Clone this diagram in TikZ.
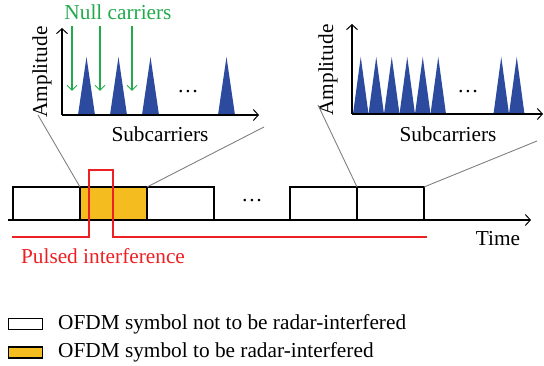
\documentclass[tikz,border=0pt]{standalone}
\usepackage{fontspec}
\setmainfont{Liberation Serif}
\usetikzlibrary{arrows.meta}
\definecolor{ngreen}{RGB}{34,170,76}
\definecolor{tblue}{RGB}{44,74,158}
\definecolor{syellow}{RGB}{245,188,32}
\definecolor{pred}{RGB}{237,32,36}
\tikzset{
  lbl/.style={font=\rmfamily\fontsize{21.3}{23}\selectfont, inner sep=0pt},
  axis/.style={line width=1.4pt, -{Straight Barb[length=5pt,width=11pt,line width=1pt]}},
  garrow/.style={ngreen, line width=1.1pt, -{Straight Barb[length=5pt,width=10pt,line width=1pt]}},
  tri/.style={fill=tblue, draw=none},
  sym/.style={draw=black, line width=1.3pt, minimum width=67pt, minimum height=33pt, inner sep=0pt, outer sep=0pt},
  leg/.style={draw=black, line width=1.1pt, minimum width=34pt, minimum height=11pt, inner sep=0pt, outer sep=0pt},
  zoomline/.style={gray, line width=0.9pt},
}
\begin{document}
\begin{tikzpicture}[x=1pt,y=-1pt]
\useasboundingbox (0,0) rectangle (544,366);
% ---------- left spectrum panel
\fill[tri] (78,115) -- (86.5,57) -- (95,115) -- cycle;
\fill[tri] (110,115) -- (118.5,57) -- (127,115) -- cycle;
\fill[tri] (142,115) -- (150.5,57) -- (159,115) -- cycle;
\fill[tri] (218,115) -- (226.5,57) -- (235,115) -- cycle;
\coordinate (lo) at (62,115);
\coordinate (ly) at (62,28);
\coordinate (lx) at (259,115);
\draw[axis] (lo) -- (ly);
\draw[axis] (lo) -- (lx);
\node[lbl, rotate=90] (lamp) at (42,72) {Amplitude};
\node[lbl] (lsub) at (160,134) {Subcarriers};
\node[lbl] (ldots) at (188,92) {\dots};
\node[lbl, text=ngreen] (null) at (118,12) {Null carriers};
\coordinate (g1s) at (72,26); \coordinate (g1e) at (72,91);
\coordinate (g2s) at (100,26); \coordinate (g2e) at (100,91);
\coordinate (g3s) at (132,26); \coordinate (g3e) at (132,91);
\draw[garrow] (g1s) -- (g1e);
\draw[garrow] (g2s) -- (g2e);
\draw[garrow] (g3s) -- (g3e);
% ---------- right spectrum panel
\foreach \a in {353,368.5,384,399.5,415,430.5,493.5,509}
  \fill[tri] (\a,114) -- (\a+7.75,57) -- (\a+15.5,114) -- cycle;
\coordinate (ro) at (352,114);
\coordinate (ry) at (352,24);
\coordinate (rx) at (543,114);
\draw[axis] (ro) -- (ry);
\draw[axis] (ro) -- (rx);
\node[lbl, rotate=90] (ramp) at (328,70) {Amplitude};
\node[lbl] (rsub) at (448,134) {Subcarriers};
\node[lbl] (rdots) at (468,92) {\dots};
% ---------- time axis and symbols
\coordinate (ts) at (8,220);
\coordinate (te) at (531,220);
\node[sym, fill=white] (s1) at (46.5,203.5) {};
\node[sym, fill=syellow] (s2) at (113.5,203.5) {};
\node[sym, fill=white] (s3) at (180.5,203.5) {};
\node[sym, fill=white] (s4) at (323.5,203.5) {};
\node[sym, fill=white] (s5) at (390.5,203.5) {};
\draw[axis] (ts) -- (te);
\node[lbl] (tdots) at (252,201) {\dots};
\node[lbl] (time) at (498,239) {Time};
% ---------- pulsed interference
\coordinate (p0) at (12,237);
\coordinate (p1) at (89,237);
\coordinate (p2) at (89,170);
\coordinate (p3) at (113,170);
\coordinate (p4) at (113,237);
\coordinate (p5) at (427,237);
\draw[pred, line width=1.1pt] (p0) -- (p1) -- (p2) -- (p3) -- (p4) -- (p5);
\node[lbl, text=pred] (pulse) at (103,256) {Pulsed interference};
% ---------- zoom lines
\coordinate (zl1) at (38,115);
\coordinate (zl2) at (264,127);
\coordinate (zr1) at (318,105);
\coordinate (zr2) at (537,141);
\draw[zoomline] (s2.north west) -- (zl1);
\draw[zoomline] (s2.north east) -- (zl2);
\draw[zoomline] (s5.north west) -- (zr1);
\draw[zoomline] (s5.north east) -- (zr2);
% ---------- legend
\node[leg, fill=white] (k1) at (25.5,324) {};
\node[leg, fill=syellow] (k2) at (25.5,352.5) {};
\node[lbl, anchor=west] (k1t) at (58,324) {OFDM symbol not to be radar-interfered};
\node[lbl, anchor=west] (k2t) at (58,352.5) {OFDM symbol to be radar-interfered};
\end{tikzpicture}
\end{document}
